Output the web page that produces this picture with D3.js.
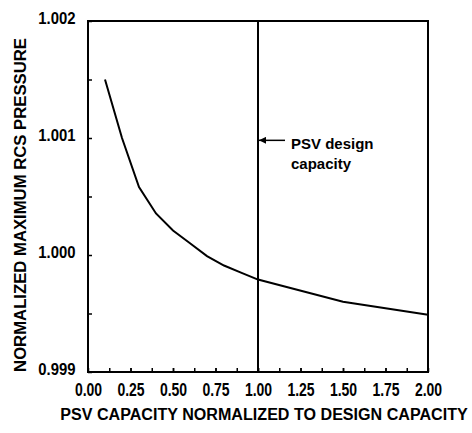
<!DOCTYPE html>
<html>
<head>
<meta charset="utf-8">
<script src="https://cdn.jsdelivr.net/npm/d3@7"></script>
<style>
  body { margin: 0; background: #fff; }
  svg text { font-family: "Liberation Sans", Arial, sans-serif; fill: #000; }
</style>
</head>
<body>
<div id="chart"></div>
<script>
// values
var capacity = [0.1, 0.2, 0.3, 0.4, 0.5, 0.6, 0.7, 0.8, 0.9, 1.0, 1.5, 2.0];
var pressure = [1.0015, 1.0010, 1.00058, 1.000355, 1.00021, 1.0001, 0.99999, 0.99991, 0.99985, 0.99979, 0.9996, 0.99949];
var xTicks = [0, 0.25, 0.5, 0.75, 1.0, 1.25, 1.5, 1.75, 2.0];
var xMinor = d3.range(0.125, 2, 0.125);
var yTicks = [0.999, 1.000, 1.001, 1.002];
var yMinor = [0.9995, 1.0005, 1.0015];
var designCapacity = 1.0;

var margin = {top: 21, right: 44, bottom: 61, left: 88};
var W = 472, H = 433;
var width = W - margin.left - margin.right, height = H - margin.top - margin.bottom;

var svg = d3.select("#chart").append("svg")
    .attr("width", W)
    .attr("height", H);

var g = svg.append("g").attr("transform", "translate(" + margin.left + "," + margin.top + ")");

var x = d3.scaleLinear().domain([0, 2]).range([0, width]);
var y = d3.scaleLinear().domain([0.999, 1.002]).range([height, 0]);

// x axis: labels + inward ticks
var xAxis = g.append("g")
    .attr("transform", "translate(0," + height + ")")
    .call(d3.axisBottom(x).tickValues(xTicks).tickFormat(d3.format(".2f")).tickSize(0).tickPadding(12));
xAxis.select(".domain").remove();
xAxis.selectAll("text")
    .attr("transform", "scale(0.8,1)")
    .style("font-size", "17.5px")
    .style("font-weight", "bold")
    .style("font-family", "Liberation Sans, Arial, sans-serif");

g.append("g")
    .attr("transform", "translate(0," + height + ")")
    .call(d3.axisTop(x).tickValues(xMinor.concat(xTicks)).tickSize(4).tickFormat(""))
    .call(function (s) { s.select(".domain").remove(); })
    .selectAll("line").attr("stroke-width", 1.5);

// y axis
var yAxis = g.append("g")
    .call(d3.axisLeft(y).tickValues(yTicks).tickFormat(d3.format(".3f")).tickSize(0).tickPadding(13.5));
yAxis.select(".domain").remove();
yAxis.selectAll("text")
    .attr("dy", "0.14em")
    .attr("transform", "scale(0.93,1)")
    .style("font-size", "16px")
    .style("font-weight", "bold")
    .style("font-family", "Liberation Sans, Arial, sans-serif");

g.append("g")
    .call(d3.axisRight(y).tickValues(yMinor.concat(yTicks)).tickSize(4).tickFormat(""))
    .call(function (s) { s.select(".domain").remove(); })
    .selectAll("line").attr("stroke-width", 1.5);

// frame
g.append("rect")
    .attr("width", width)
    .attr("height", height)
    .attr("fill", "none")
    .attr("stroke", "#000")
    .attr("stroke-width", 2);

// design capacity line
g.append("line")
    .attr("x1", x(designCapacity)).attr("x2", x(designCapacity))
    .attr("y1", 0).attr("y2", height)
    .attr("stroke", "#000")
    .attr("stroke-width", 2);

// curve
var line = d3.line()
    .x(function (d, i) { return x(capacity[i]); })
    .y(function (d) { return y(d); });

g.append("path")
    .datum(pressure)
    .attr("d", line)
    .attr("fill", "none")
    .attr("stroke", "#000")
    .attr("stroke-width", 2);

// annotation arrow
svg.append("defs").append("marker")
    .attr("id", "arrow")
    .attr("viewBox", "0 0 10 10")
    .attr("refX", 10).attr("refY", 5)
    .attr("markerWidth", 9).attr("markerHeight", 7)
    .attr("markerUnits", "userSpaceOnUse")
    .attr("orient", "auto")
    .append("path")
    .attr("d", "M0,0L10,5L0,10z")
    .attr("fill", "#000");

var ay = y(1.00098);
g.append("line")
    .attr("x1", x(designCapacity) + 27).attr("x2", x(designCapacity) + 1)
    .attr("y1", ay).attr("y2", ay)
    .attr("stroke", "#000")
    .attr("stroke-width", 1.5)
    .attr("marker-end", "url(#arrow)");

var note = g.append("text")
    .attr("x", x(designCapacity) + 33)
    .attr("y", ay + 9)
    .style("font-size", "15px")
    .style("font-weight", "bold");
note.append("tspan").text("PSV design");
note.append("tspan").attr("x", x(designCapacity) + 33).attr("dy", 20).text("capacity");

// axis titles, squeezed horizontally to the reference width
function squeezedTitle(label, cx, cy, rot, len) {
    var t = svg.append("text")
        .attr("text-anchor", "middle")
        .style("font-size", "17px")
        .style("font-weight", "bold")
        .text(label);
    var s = len / t.node().getComputedTextLength();
    t.attr("transform", "translate(" + cx + "," + cy + ") rotate(" + rot + ") scale(" + s + ",1)");
}

squeezedTitle("PSV CAPACITY NORMALIZED TO DESIGN CAPACITY", 264, 420, 0, 408);
squeezedTitle("NORMALIZED MAXIMUM RCS PRESSURE", 26, 205, -90, 334);
</script>
</body>
</html>
